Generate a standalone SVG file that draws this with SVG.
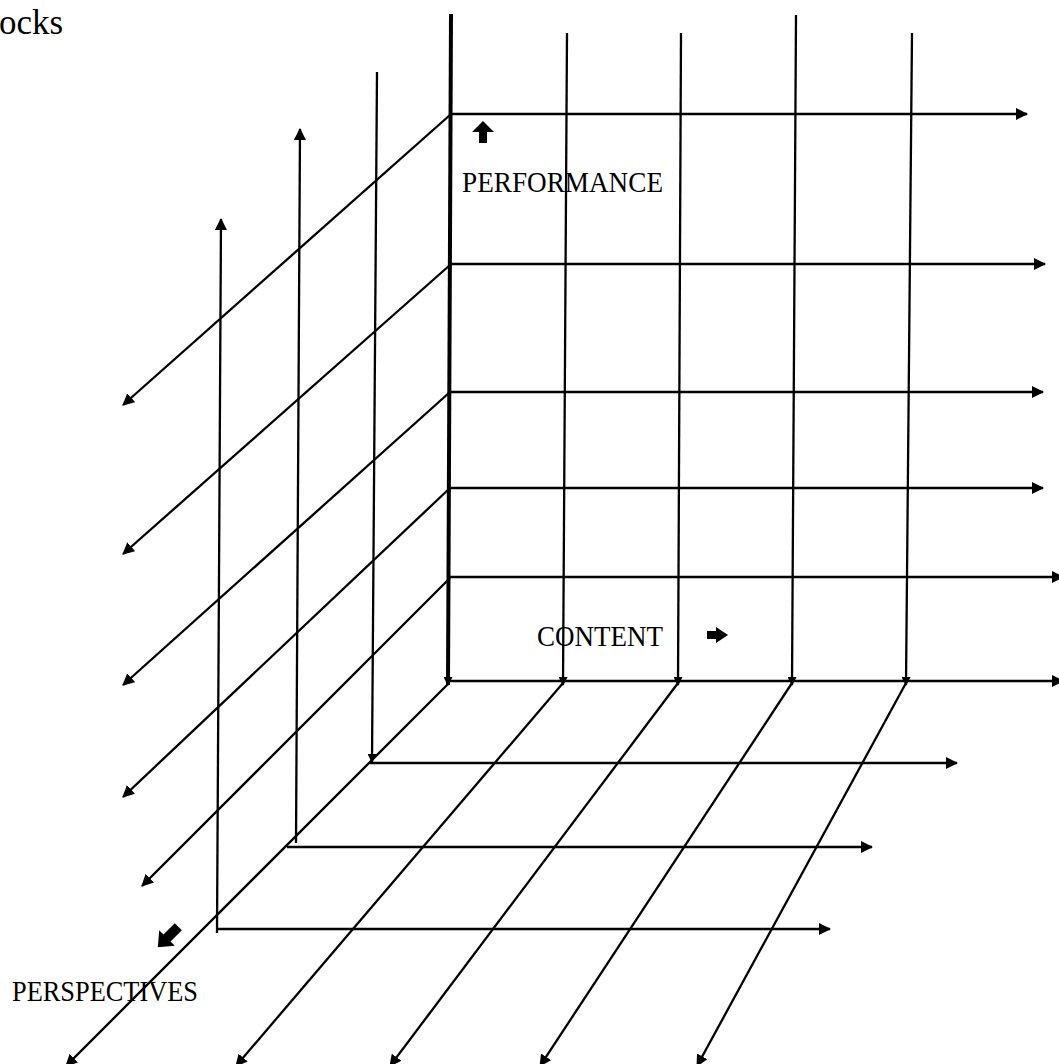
<svg xmlns="http://www.w3.org/2000/svg" width="1059" height="1064" viewBox="0 0 1059 1064">
<style>
.ln{stroke:#000;stroke-width:2.3;fill:none}
.ar{marker-end:url(#ah)}
.sm{marker-end:url(#sm)}
.lbl{font-family:"Liberation Serif","Times New Roman",serif;font-size:30px;fill:#000}
</style>
<defs>
<marker id="ah" markerWidth="12" markerHeight="12" refX="11" refY="6" orient="auto" markerUnits="userSpaceOnUse"><path d="M0,0 L12,6 L0,12 z" fill="#000"/></marker>
<marker id="sm" markerWidth="9" markerHeight="9" refX="8" refY="4.5" orient="auto" markerUnits="userSpaceOnUse"><path d="M0,0 L9,4.5 L0,9 z" fill="#000"/></marker>
</defs>
<rect width="1059" height="1064" fill="#fff"/>
<g id="connectors">
<line class="ln sm" x1="451" y1="14" x2="448" y2="685" style="stroke-width:4"/>
<line class="ln sm" x1="567" y1="33" x2="563" y2="685"/>
<line class="ln sm" x1="681" y1="33" x2="678" y2="685"/>
<line class="ln sm" x1="796" y1="15" x2="792" y2="685"/>
<line class="ln sm" x1="912" y1="33" x2="906" y2="685"/>
<line class="ln sm" x1="377" y1="72" x2="372" y2="762"/>
<line class="ln ar" x1="296" y1="843" x2="300" y2="129"/>
<line class="ln ar" x1="217" y1="933" x2="221" y2="219"/>
<line class="ln ar" x1="451" y1="114" x2="1027" y2="114"/>
<line class="ln ar" x1="451" y1="264" x2="1045" y2="264"/>
<line class="ln ar" x1="451" y1="392" x2="1043" y2="392"/>
<line class="ln ar" x1="451" y1="488" x2="1043" y2="488"/>
<line class="ln ar" x1="450" y1="577" x2="1063" y2="577"/>
<line class="ln ar" x1="449" y1="681" x2="1063" y2="681"/>
<line class="ln ar" x1="370" y1="763" x2="957" y2="763"/>
<line class="ln ar" x1="287" y1="847" x2="872" y2="847"/>
<line class="ln ar" x1="217" y1="929" x2="830" y2="929"/>
<line class="ln ar" x1="450" y1="115" x2="123" y2="405"/>
<line class="ln ar" x1="450" y1="265" x2="123" y2="554"/>
<line class="ln ar" x1="450" y1="392" x2="123" y2="685"/>
<line class="ln ar" x1="450" y1="488" x2="123" y2="797"/>
<line class="ln ar" x1="450" y1="578" x2="142" y2="886"/>
<line class="ln ar" x1="449" y1="683" x2="66" y2="1066"/>
<line class="ln ar" x1="563" y1="683" x2="236" y2="1066"/>
<line class="ln ar" x1="678" y1="683" x2="390" y2="1066"/>
<line class="ln ar" x1="792" y1="683" x2="540" y2="1066"/>
<line class="ln ar" x1="906" y1="683" x2="697" y2="1066"/>
</g>
<g id="title"><text class="lbl" x="-1" y="34" style="font-size:36px" textLength="64" lengthAdjust="spacingAndGlyphs">ocks</text></g>
<g id="performance">
<path d="M483,121 L494,132 L487,132 L487,143 L479,143 L479,132 L472,132 z" fill="#000"/>
<text class="lbl" x="462" y="192" textLength="201" lengthAdjust="spacingAndGlyphs">PERFORMANCE</text>
</g>
<g id="content">
<text class="lbl" x="537" y="646" textLength="126" lengthAdjust="spacingAndGlyphs">CONTENT</text>
<path d="M707,631 L716,631 L716,627 L728,635 L716,643 L716,639 L707,639 z" fill="#000"/>
</g>
<g id="perspectives">
<path d="M0,-5 L0,-11 L13,0 L0,11 L0,5 L-16,5 L-16,-5 z" fill="#000" transform="translate(167,938) rotate(135)"/>
<text class="lbl" x="12" y="1001" textLength="186" lengthAdjust="spacingAndGlyphs">PERSPECTIVES</text>
</g>
</svg>
